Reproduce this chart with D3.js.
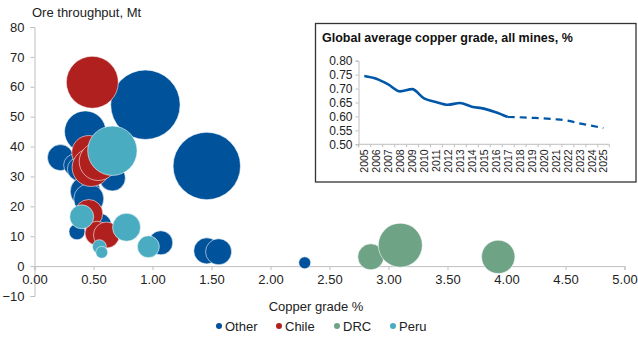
<!DOCTYPE html>
<html lang="en">
<head>
    <meta charset="UTF-8">
    <title>Ore throughput vs copper grade</title>
    <style>
        body, html {
            font-family: "Liberation Sans", Arial, sans-serif;
            margin: 0;
            padding: 0;
            background: #fff;
        }
        #chart { width: 638px; height: 338px; }
    </style>
    <script src="https://d3js.org/d3.v7.min.js"></script>
</head>
<body>
    <div id="chart"></div>
    <script>
        // mines: region, grade (%), throughput (Mt), bubble size
        const regions = ["Other", "Chile", "DRC", "Peru"];
        const regionColors = ["#00529B", "#B0201E", "#6FA386", "#4AACC0"];

        const mineRegion = [
            "Other", "Other", "Other", "Other", "Other", "Other", "Other", "Other", "Other",
            "Other", "Other", "Other", "Other", "Other", "Other",
            "Chile", "Chile", "Chile", "Chile", "Chile", "Chile", "Chile",
            "DRC", "DRC", "DRC",
            "Peru", "Peru", "Peru", "Peru", "Peru", "Peru"
        ];
        const mineGrade = [
            0.94, 1.46, 0.43, 0.22, 0.34, 0.38, 0.66, 0.43, 0.46,
            0.36, 0.55, 1.07, 1.46, 1.56, 2.29,
            0.49, 0.46, 0.48, 0.54, 0.46, 0.53, 0.61,
            2.85, 3.10, 3.93,
            0.66, 0.40, 0.78, 0.55, 0.57, 0.965
        ];
        const mineThroughput = [
            54, 33.5, 45, 36.3, 33.8, 32.5, 29.5, 25, 22.5,
            11.5, 13.7, 7.8, 5.1, 4.8, 1.1,
            61.5, 38, 33, 35, 17.6, 11, 10.4,
            3.1, 7, 3.1,
            38.6, 16.5, 13, 6.5, 4.6, 6.5
        ];
        const mineSize = [
            1180, 1112, 420, 166, 118, 140, 166, 220, 220,
            63, 141, 141, 166, 166, 35,
            662, 283, 354, 354, 192, 141, 166,
            166, 474, 273,
            598, 141, 192, 48, 35, 118
        ];

        // inset: global average grade
        const years = d3.range(2005, 2026).map(String);
        const avgGrade = [0.745, 0.735, 0.715, 0.69, 0.698, 0.665, 0.652, 0.642, 0.648, 0.635,
                          0.628, 0.615, 0.598, 0.597, 0.595, 0.593, 0.59, 0.585, 0.575, 0.567, 0.558];
        const lastActual = "2017";

        const xTicks = d3.range(0, 5.01, 0.5);
        const yTicks = d3.range(-10, 81, 10);
        const insetTicks = [0.5, 0.55, 0.6, 0.65, 0.7, 0.75, 0.8];

        const W = 638, H = 338;
        const svg = d3.select("#chart").append("svg")
            .attr("width", W)
            .attr("height", H);

        const x = d3.scaleLinear().domain([0, 5]).range([34.5, 624.5]);
        const y = d3.scaleLinear().domain([-10, 80]).range([296, 27]);
        const r = d3.scaleSqrt().domain([0, 1200]).range([0, 35]);
        const color = d3.scaleOrdinal().domain(regions).range(regionColors);

        // y axis
        const yAxis = svg.append("g")
            .attr("transform", "translate(34.5,0)")
            .call(d3.axisLeft(y).tickValues(yTicks).tickSize(4).tickPadding(6));
        yAxis.select(".domain").attr("stroke", "#BFBFBF");
        yAxis.selectAll(".tick line").attr("stroke", "#BFBFBF");
        yAxis.selectAll("text").attr("fill", "#222").style("font-size", "13px")
            .style("font-family", "Liberation Sans, Arial, sans-serif");

        // x axis at y=0
        const xAxis = svg.append("g")
            .attr("transform", `translate(0,${y(0)})`)
            .call(d3.axisBottom(x).tickValues(xTicks).tickFormat(d3.format(".2f")).tickSize(4).tickPadding(5));
        xAxis.select(".domain").attr("stroke", "#BFBFBF");
        xAxis.selectAll(".tick line").attr("stroke", "#BFBFBF");
        xAxis.selectAll("text").attr("fill", "#222").style("font-size", "13px")
            .style("font-family", "Liberation Sans, Arial, sans-serif");

        svg.append("text")
            .attr("x", 32).attr("y", 17)
            .style("font-size", "13px").attr("fill", "#222")
            .text("Ore throughput, Mt");

        svg.append("text")
            .attr("x", 316).attr("y", 311)
            .attr("text-anchor", "middle")
            .style("font-size", "13px").attr("fill", "#222")
            .text("Copper grade %");

        // bubbles, drawn by region order so red sits on blue and cyan on top
        const mines = mineGrade.map((g, i) => ({
            region: mineRegion[i], grade: g, tp: mineThroughput[i], size: mineSize[i]
        }));
        const ordered = regions.flatMap(reg => mines.filter(m => m.region === reg));

        svg.append("g").selectAll("circle")
            .data(ordered)
            .enter()
            .append("circle")
            .attr("cx", d => x(d.grade))
            .attr("cy", d => y(d.tp))
            .attr("r", d => r(d.size))
            .attr("fill", d => color(d.region))
            .attr("stroke", "#fff")
            .attr("stroke-opacity", 0.7)
            .attr("stroke-width", 0.8);

        // legend
        const legendX = [219, 279, 337, 393];
        const legend = svg.append("g").selectAll("g")
            .data(regions)
            .enter()
            .append("g")
            .attr("transform", (d, i) => `translate(${legendX[i]},326)`);
        legend.append("circle").attr("r", 3).attr("fill", d => color(d));
        legend.append("text")
            .attr("x", 6).attr("y", 4.5)
            .style("font-size", "13px").attr("fill", "#222")
            .text(d => d);

        // inset box
        const inset = svg.append("g");
        inset.append("rect")
            .attr("x", 315.5).attr("y", 23.5)
            .attr("width", 320.5).attr("height", 158.5)
            .attr("fill", "#fff")
            .attr("stroke", "#333")
            .attr("stroke-width", 1.3);

        inset.append("text")
            .attr("x", 322).attr("y", 42)
            .style("font-size", "12.5px").style("font-weight", "bold").attr("fill", "#111")
            .text("Global average copper grade, all mines, %");

        const ix = d3.scalePoint().domain(years).range([364.3, 603.3]);
        const iy = d3.scaleLinear().domain([0.5, 0.8]).range([144.3, 60.7]);

        const iyAxis = inset.append("g")
            .attr("transform", "translate(358.5,0)")
            .call(d3.axisLeft(iy).tickValues(insetTicks).tickFormat(d3.format(".2f")).tickSize(3).tickPadding(3));
        iyAxis.select(".domain").attr("stroke", "#BFBFBF");
        iyAxis.selectAll(".tick line").attr("stroke", "#BFBFBF");
        iyAxis.selectAll("text").attr("fill", "#222").style("font-size", "12px")
            .style("font-family", "Liberation Sans, Arial, sans-serif");

        const ixAxis = inset.append("g")
            .attr("transform", `translate(0,${iy(0.5)})`)
            .call(d3.axisBottom(ix).tickSize(3).tickPadding(4));
        ixAxis.select(".domain").attr("stroke", "#BFBFBF")
            .attr("d", `M358.5,3V0H609.3V3`);
        ixAxis.selectAll(".tick line").attr("stroke", "#BFBFBF")
            .attr("transform", `translate(${-ix.step() / 2},0)`);
        ixAxis.selectAll("text")
            .attr("fill", "#222")
            .style("font-size", "10.5px")
            .style("font-family", "Liberation Sans, Arial, sans-serif")
            .attr("transform", "rotate(-90)")
            .attr("text-anchor", "end")
            .attr("dy", "0.35em")
            .attr("x", -5).attr("y", 0);

        const series = years.map((yr, i) => ({ yr, v: avgGrade[i] }));
        const cut = years.indexOf(lastActual);
        const line = d3.line().x(d => ix(d.yr)).y(d => iy(d.v)).curve(d3.curveMonotoneX);

        inset.append("path")
            .datum(series.slice(0, cut + 1))
            .attr("d", line)
            .attr("fill", "none")
            .attr("stroke", "#0057A8")
            .attr("stroke-width", 2.6);
        inset.append("path")
            .datum(series.slice(cut))
            .attr("d", line)
            .attr("fill", "none")
            .attr("stroke", "#0057A8")
            .attr("stroke-width", 2.2)
            .attr("stroke-dasharray", "7,5");
    </script>
</body>
</html>
